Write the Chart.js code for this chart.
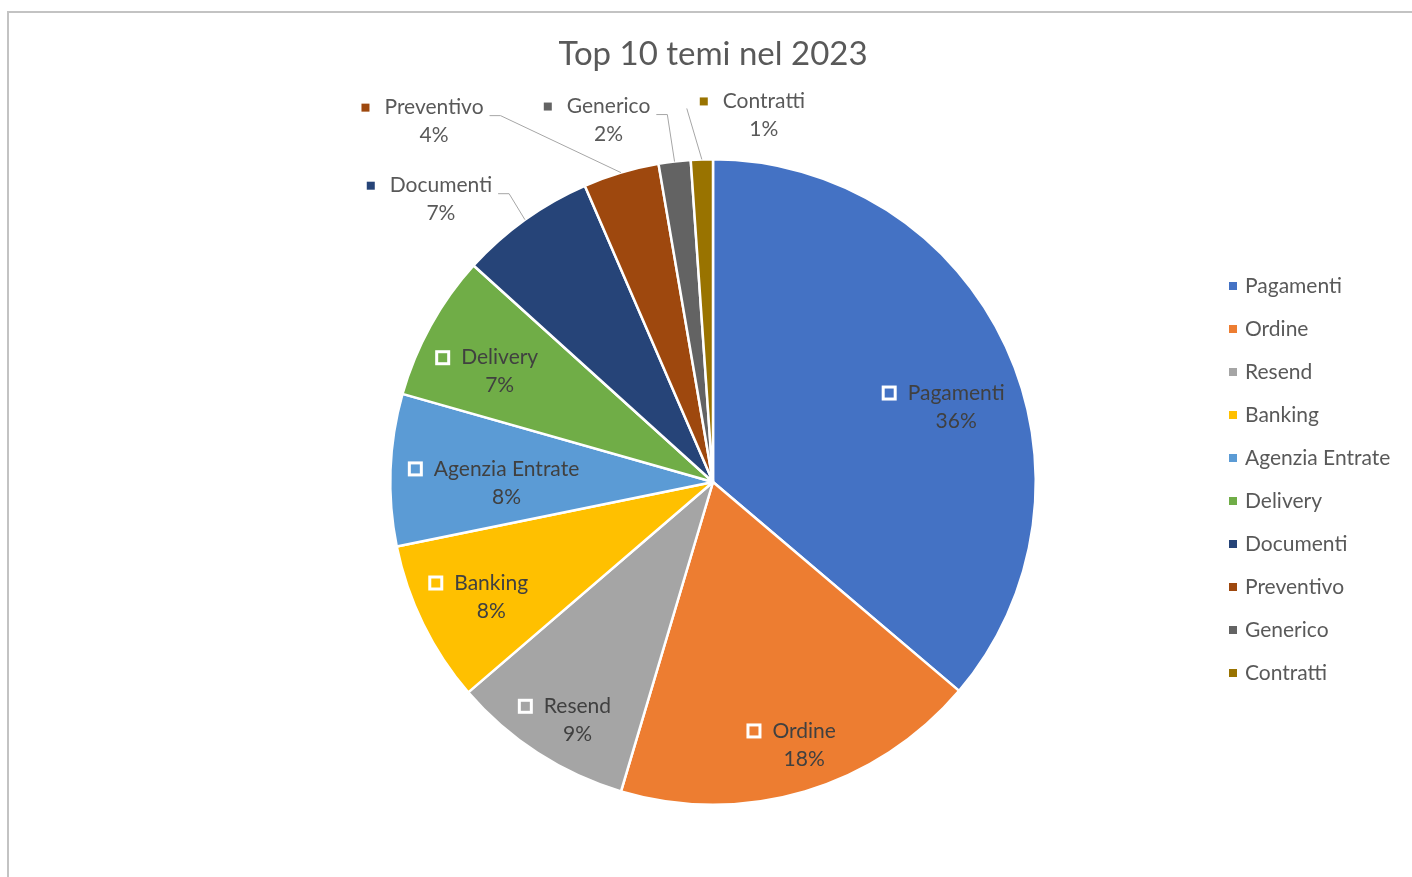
<!DOCTYPE html>
<html>
<head>
<meta charset="utf-8">
<title>Top 10 temi nel 2023</title>
<script src="https://cdn.jsdelivr.net/npm/chart.js@4"></script>
<style>
html, body { margin: 0; padding: 0; background: #fff; overflow: hidden; }
#frame { position: absolute; left: 7px; top: 11px; width: 1500px; height: 1000px;
         border-left: 2px solid #c3c3c3; border-top: 2px solid #c3c3c3; }
#wrap { position: absolute; left: 0; top: 0; width: 1412px; height: 877px; }
</style>
</head>
<body>
<div id="frame"></div>
<div id="wrap"><canvas id="pie-chart"></canvas></div>
<script>
// categories and share of each theme (percent of total)
var categories = ["Pagamenti", "Ordine", "Resend", "Banking", "Agenzia Entrate",
                  "Delivery", "Documenti", "Preventivo", "Generico", "Contratti"];
var shares = [36.2, 18.4, 9.1, 8.1, 7.6, 7.3, 6.8, 3.8, 1.6, 1.1];
var colors = ["#4472C4", "#ED7D31", "#A5A5A5", "#FFC000", "#5B9BD5",
              "#70AD47", "#264478", "#9E480E", "#636363", "#997300"];

// label placement (style only): inside labels along the slice, outside ones with leader lines
var insideLabels = [
    {r: 0.75, da: 6.8}, {r: 0.85, da: 0}, {r: 0.87, da: -1},
    {r: 0.81, da: 0}, {r: 0.68, da: -2.4}, {r: 0.78, da: -3}
];
var outsideLabels = {
    6: {dx: -84, dy: -34, side: 'left'},
    7: {dx: -187, dy: -65, side: 'left'},
    8: {dx: -66, dy: -55, side: 'left'},
    9: {dx: 62, dy: -58, side: 'right'}
};

var sliceLabels = {
    id: 'sliceLabels',
    afterDatasetsDraw: function(chart) {
        var ctx = chart.ctx;
        var meta = chart.getDatasetMeta(0);
        var ds = chart.data.datasets[0];
        var total = 0;
        for (var k = 0; k < ds.data.length; k++) total += ds.data[k];

        ctx.save();
        ctx.font = '21px Lato';
        ctx.textBaseline = 'middle';
        for (var i = 0; i < meta.data.length; i++) {
            var p = meta.data[i].getProps(['x', 'y', 'startAngle', 'endAngle', 'outerRadius'], true);
            var name = chart.data.labels[i];
            var pct = Math.round(ds.data[i] / total * 100) + '%';
            var mid = (p.startAngle + p.endAngle) / 2;
            var w = ctx.measureText(name).width;

            if (i < insideLabels.length) {
                var a = mid + insideLabels[i].da * Math.PI / 180;
                var cx = p.x + Math.cos(a) * p.outerRadius * insideLabels[i].r;
                var cy = p.y + Math.sin(a) * p.outerRadius * insideLabels[i].r;
                var left = cx - (26 + w) / 2;
                var ny = cy - 14;
                ctx.fillStyle = ds.backgroundColor[i];
                ctx.fillRect(left + 1.5, ny - 6, 12, 12);
                ctx.strokeStyle = '#ffffff';
                ctx.lineWidth = 3;
                ctx.strokeRect(left + 1.5, ny - 6, 12, 12);
                ctx.fillStyle = '#404040';
                ctx.textAlign = 'left';
                ctx.fillText(name, left + 26, ny);
                ctx.textAlign = 'center';
                ctx.fillText(pct, left + 26 + w / 2, ny + 28);
            } else {
                var o = outsideLabels[i];
                var ex = p.x + Math.cos(mid) * p.outerRadius;
                var ey = p.y + Math.sin(mid) * p.outerRadius;
                var nx = ex + o.dx;
                var ny2 = ey + o.dy;
                var nameLeft = nx - w / 2;
                var nameRight = nx + w / 2;

                ctx.strokeStyle = '#a6a6a6';
                ctx.lineWidth = 1;
                ctx.beginPath();
                if (o.side === 'left') {
                    ctx.moveTo(nameRight + 6, ny2 + 8);
                    ctx.lineTo(nameRight + 17, ny2 + 8);
                } else {
                    ctx.moveTo(nameLeft - 36, ny2 + 7);
                }
                ctx.lineTo(ex, ey);
                ctx.stroke();

                ctx.fillStyle = ds.backgroundColor[i];
                ctx.fillRect(nameLeft - 23, ny2 - 4, 8, 8);
                ctx.fillStyle = '#595959';
                ctx.textAlign = 'center';
                ctx.fillText(name, nx, ny2);
                ctx.fillText(pct, nx, ny2 + 28);
            }
        }
        ctx.restore();
    }
};

var sideLegend = {
    id: 'sideLegend',
    afterDraw: function(chart) {
        var ctx = chart.ctx;
        var ds = chart.data.datasets[0];
        ctx.save();
        ctx.font = '21px Lato';
        ctx.textBaseline = 'middle';
        ctx.textAlign = 'left';
        for (var i = 0; i < chart.data.labels.length; i++) {
            var y = 286 + i * 43;
            ctx.fillStyle = ds.backgroundColor[i];
            ctx.fillRect(1229, y - 4, 8, 8);
            ctx.fillStyle = '#595959';
            ctx.fillText(chart.data.labels[i], 1245, y);
        }
        ctx.restore();
    }
};

Chart.defaults.font.family = 'Lato';

new Chart(document.getElementById('pie-chart'), {
    type: 'pie',
    data: {
        labels: categories,
        datasets: [{
            data: shares,
            backgroundColor: colors,
            borderColor: '#ffffff',
            borderWidth: 2.5
        }]
    },
    options: {
        responsive: true,
        maintainAspectRatio: false,
        animation: false,
        layout: { padding: { left: 389, right: 375, top: 0, bottom: 71 } },
        plugins: {
            legend: { display: false },
            tooltip: { enabled: false },
            title: {
                display: true,
                text: 'Top 10 temi nel 2023',
                color: '#595959',
                font: { size: 33, weight: 'normal' },
                padding: { top: 35, bottom: 83.4 }
            }
        }
    },
    plugins: [sliceLabels, sideLegend]
});
</script>
</body>
</html>
